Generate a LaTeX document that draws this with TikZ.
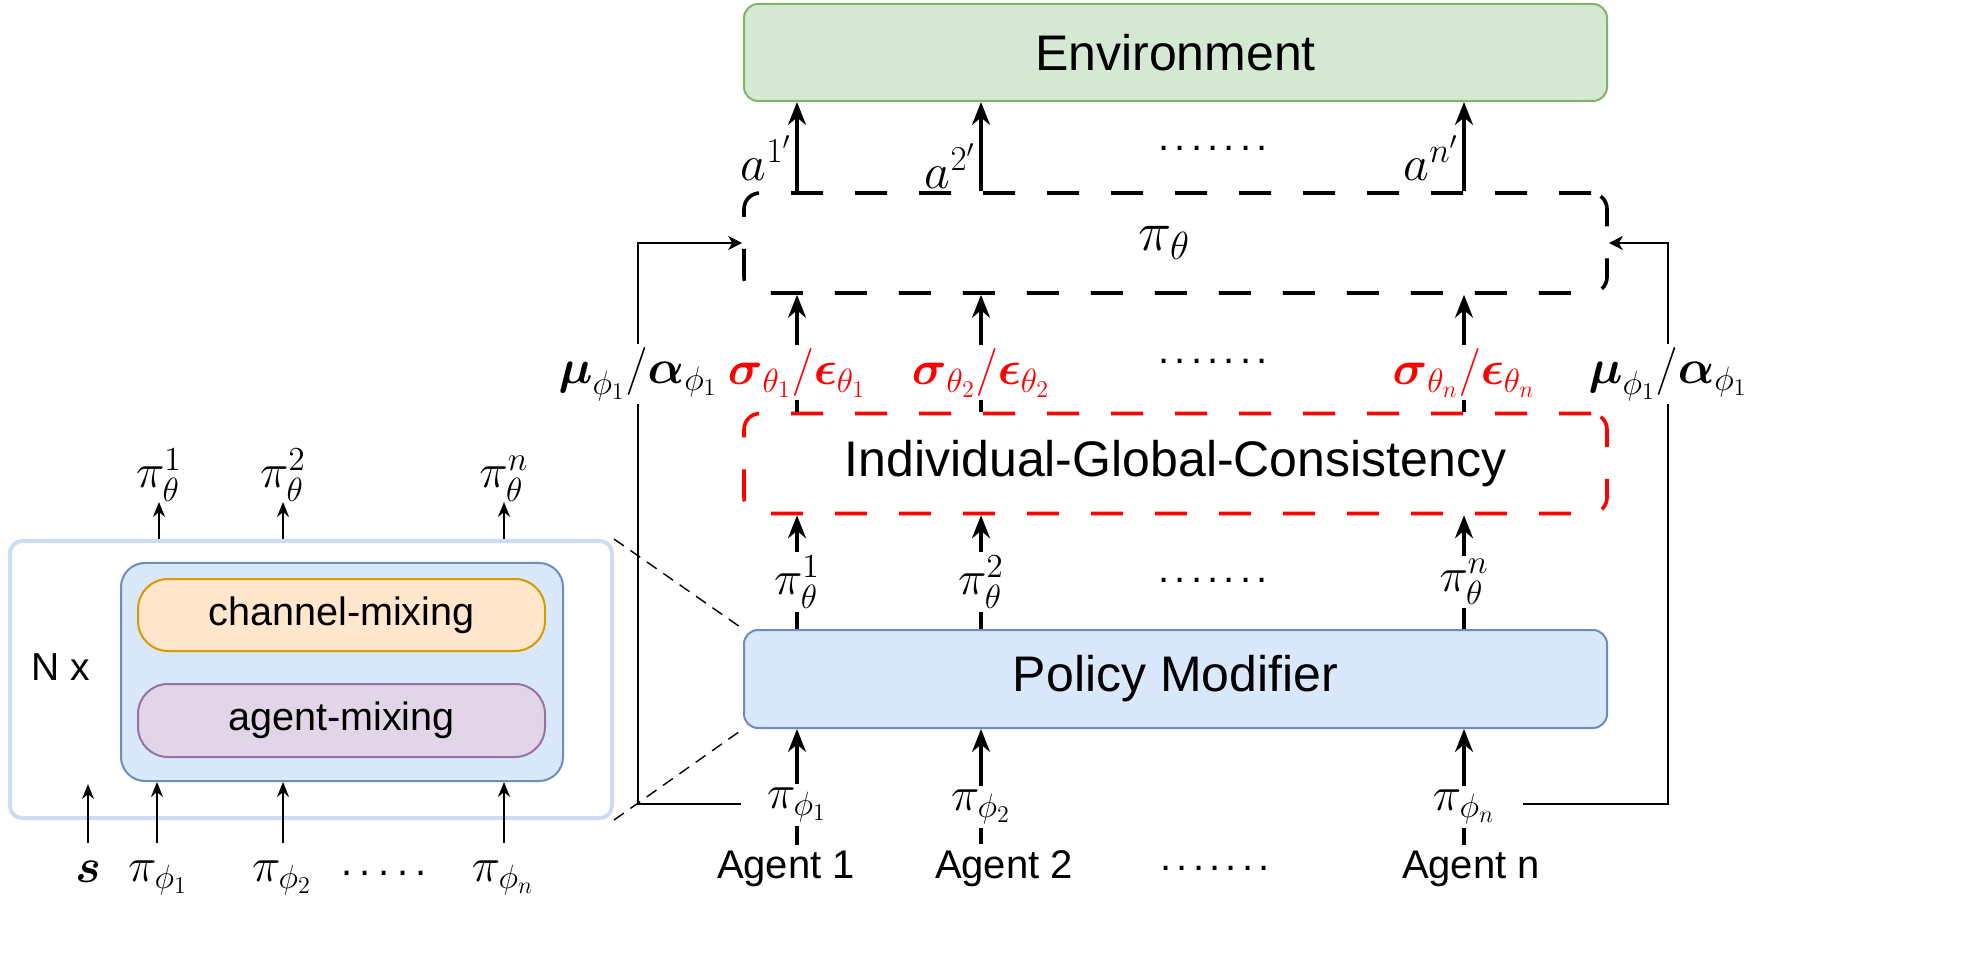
\RequirePackage{fix-cm}
\documentclass[tikz,border=0pt]{standalone}
\usepackage{amsmath}
\usepackage{fontspec}
\setmainfont{Liberation Sans}
\usetikzlibrary{arrows.meta}
\definecolor{envfill}{HTML}{D5E8D4}
\definecolor{envline}{HTML}{82B366}
\definecolor{bluefill}{HTML}{DAE8FC}
\definecolor{blueline}{HTML}{6C8EBF}
\definecolor{orfill}{HTML}{FFE6CC}
\definecolor{orline}{HTML}{D79B00}
\definecolor{pufill}{HTML}{E1D5E7}
\definecolor{puline}{HTML}{9673A6}
\definecolor{outerline}{HTML}{CADDF5}
\newcommand{\gd}{.\hspace{2.6pt}}
\begin{document}
\begin{tikzpicture}[x=0.5pt,y=-0.5pt]
\tikzset{
  bigbox/.style={draw, rounded corners=7pt, line width=1pt, minimum width=431.5pt, font=\fontsize{25}{29}\selectfont},
  dbox/.style={draw, rounded corners=8pt, line width=1.8pt, dash pattern=on 16pt off 16pt, minimum width=431.5pt, minimum height=50pt},
  thk/.style={line width=1.65pt},
  thkarrow/.style={thk, -{Stealth[length=11.5pt,width=9pt]}},
  loopline/.style={line width=0.9pt},
  looparrow/.style={loopline, -{Stealth[length=7pt,width=7pt,inset=2pt]}},
  thinarrow/.style={line width=0.8pt, -{Stealth[length=7.5pt,width=6pt]}},
  lab/.style={fill=white, inner sep=1.5pt, font=\fontsize{24}{28}\selectfont},
  alab/.style={inner sep=1.5pt, anchor=east, font=\fontsize{25}{29}\selectfont},
  plab/.style={inner sep=0pt, font=\fontsize{24}{28}\selectfont},
  agentlab/.style={inner sep=3pt, font=\fontsize{20}{24}\selectfont},
  dotlab/.style={inner sep=0pt, font=\fontsize{20}{24}\selectfont},
  mixbox/.style={line width=1pt, rounded corners=15pt, minimum width=203.5pt, font=\fontsize{19.8}{23}\selectfont},
  zoomline/.style={line width=0.7pt, dash pattern=on 6pt off 4pt},
}
\fill[white] (0,0) rectangle (1964,972);
\useasboundingbox (0,0) rectangle (1964,972);

% ---------- main boxes ----------
\node[bigbox, fill=envfill, draw=envline, minimum height=48.5pt] (env) at (1175.5,52.5) {Environment};
\node[dbox, font=\fontsize{28}{32}\selectfont] (pit) at (1175.5,243) {\hspace*{-11pt}\raisebox{-3.5pt}{$\pi_\theta$}};
\node[dbox, draw=red, font=\fontsize{25}{29}\selectfont] (igc) at (1175.5,463.5) {Individual-Global-Consistency};
\node[bigbox, fill=bluefill, draw=blueline, minimum height=49pt] (pm) at (1175.5,679) {Policy Modifier};

\coordinate (c1) at (797,0);
\coordinate (c2) at (981,0);
\coordinate (cn) at (1464,0);

% ---------- actions ----------
\draw[thkarrow] (c1 |- pit.north) -- (c1 |- env.south);
\draw[thkarrow] (c2 |- pit.north) -- (c2 |- env.south);
\draw[thkarrow] (cn |- pit.north) -- (cn |- env.south);
\node[alab] (a1) at (795,158) {$a^{1'}$};
\node[alab] (a2) at (979,166) {$a^{2'}$};
\node[alab] (an) at (1462,158) {$a^{n'}$};
\node[dotlab] (d1) at (1213,148) {\gd\gd\gd\gd\gd\gd.};

% ---------- sigma / epsilon ----------
\node[lab, text=red] (s1) at (797,373) {$\boldsymbol{\sigma}_{\theta_1}/\boldsymbol{\epsilon}_{\theta_1}$};
\node[lab, text=red] (s2) at (981,373) {$\boldsymbol{\sigma}_{\theta_2}/\boldsymbol{\epsilon}_{\theta_2}$};
\node[lab, text=red] (sn) at (1464,373) {$\boldsymbol{\sigma}_{\theta_n}/\boldsymbol{\epsilon}_{\theta_n}$};
\node[dotlab] (d2) at (1213,361) {\gd\gd\gd\gd\gd\gd.};
\foreach \s in {s1,s2,sn}{
  \draw[thk] (igc.north -| \s) -- (\s.south);
  \draw[thkarrow] (\s.north) -- (pit.south -| \s);
}

% ---------- pi_theta^i ----------
\node[lab] (t1) at (797,582) {$\pi_\theta^1$};
\node[lab] (t2) at (981,582) {$\pi_\theta^2$};
\node[lab] (tn) at (1464,582) {$\pi_\theta^n$};
\node[dotlab] (d3) at (1213,580) {\gd\gd\gd\gd\gd\gd.};
\foreach \t in {t1,t2,tn}{
  \draw[thk] (pm.north -| \t) -- (\t.south);
  \draw[thkarrow] (\t.north) -- (igc.south -| \t);
}

% ---------- agents ----------
\node[agentlab] (ag1) at (786,869) {Agent 1};
\node[agentlab] (ag2) at (1004,869) {Agent 2};
\node[agentlab] (agn) at (1471,869) {Agent n};
\node[dotlab] (d4) at (1215,868) {\gd\gd\gd\gd\gd\gd.};
\node[lab] (p1) at (797,805) {$\pi_{\phi_1}$};
\node[lab] (p2) at (981,807) {$\pi_{\phi_2}$};
\node[lab] (pn) at (1464,807) {$\pi_{\phi_n}$};
\draw[thk] (ag1.north -| p1) -- (p1.south);
\draw[thk] (ag2.north -| p2) -- (p2.south);
\draw[thk] (agn.north -| pn) -- (pn.south);
\draw[thkarrow] (p1.north) -- (pm.south -| p1);
\draw[thkarrow] (p2.north) -- (pm.south -| p2);
\draw[thkarrow] (pn.north) -- (pm.south -| pn);

% ---------- feedback loops ----------
\node[lab] (mul) at (638,374) {$\boldsymbol{\mu}_{\phi_1}/\boldsymbol{\alpha}_{\phi_1}$};
\node[lab] (mur) at (1668,374) {$\boldsymbol{\mu}_{\phi_1}/\boldsymbol{\alpha}_{\phi_1}$};
\coordinate (l1) at (741,804);
\coordinate (r1) at (1523,804);
\draw[loopline] (l1) -| (mul.south);
\draw[looparrow] (mul.north) |- (pit.west);
\draw[loopline] (r1) -| (mur.south);
\draw[looparrow] (mur.north) |- (pit.east);

% ---------- left detail panel ----------
\node[draw=outerline, line width=2pt, rounded corners=6pt, fill=white, minimum width=301pt, minimum height=138.5pt] (outer) at (311,679.5) {};
\node[draw=blueline, fill=bluefill, line width=1pt, rounded corners=12pt, minimum width=221pt, minimum height=109pt] (inner) at (342,672) {};
\node[mixbox, draw=orline, fill=orfill, minimum height=36pt] (ch) at (341.5,615) {channel-mixing};
\node[mixbox, draw=puline, fill=pufill, minimum height=36.5pt] (am) at (341.5,720.5) {agent-mixing};
\node[font=\fontsize{19.5}{23}\selectfont] (nx) at (61,667) {N x};

\node[plab, anchor=south] (lt1) at (159,502) {$\pi_\theta^1$};
\node[plab, anchor=south] (lt2) at (283,502) {$\pi_\theta^2$};
\node[plab, anchor=south] (ltn) at (504,502) {$\pi_\theta^n$};
\foreach \l in {lt1,lt2,ltn}{
  \draw[thinarrow] (outer.north -| \l) -- (\l.south);
}

\node[plab] (ls) at (88,872) {$\boldsymbol{s}$};
\node[plab] (lb1) at (158,878) {$\pi_{\phi_1}$};
\node[plab] (lb2) at (282,878) {$\pi_{\phi_2}$};
\node[plab] (lbn) at (503,878) {$\pi_{\phi_n}$};
\node[dotlab] (ld) at (384,873) {.\hspace{3.8pt}.\hspace{3.8pt}.\hspace{3.8pt}.\hspace{3.8pt}.};
\coordinate (bs) at (88,843);
\coordinate (b1) at (157,843);
\coordinate (b2) at (283,843);
\coordinate (bn) at (504,843);
\draw[thinarrow] (bs) -- ([yshift=-1pt]bs |- inner.south);
\draw[thinarrow] (b1) -- (b1 |- inner.south);
\draw[thinarrow] (b2) -- (b2 |- inner.south);
\draw[thinarrow] (bn) -- (bn |- inner.south);

% ---------- zoom lines ----------
\draw[zoomline] (outer.north east) -- (pm.north west);
\draw[zoomline] (outer.south east) -- (pm.south west);
\end{tikzpicture}
\end{document}
